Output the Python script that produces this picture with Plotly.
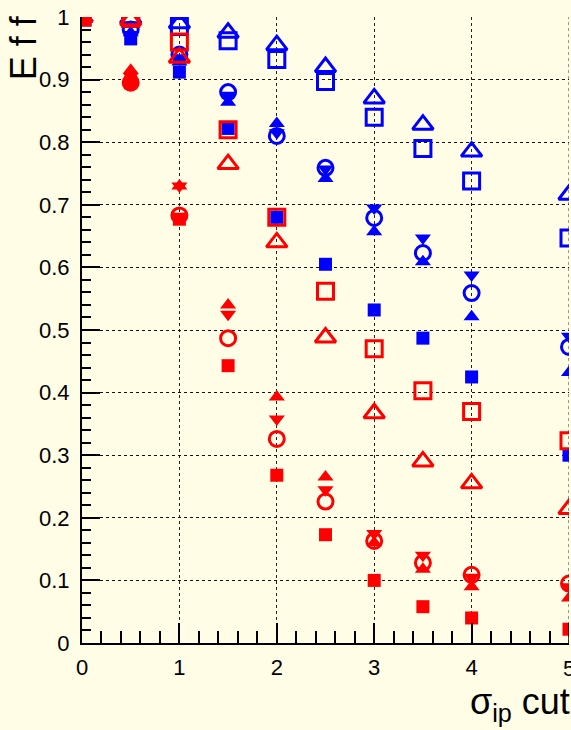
import plotly.graph_objects as go

# cut values (sigma_ip)
x_cut = [0, 0.5, 1, 1.5, 2, 2.5, 3, 3.5, 4, 5]
x_tick_labels = ["0", "1", "2", "3", "4", "5"]

# blue series
blue_filled_sq = [1.0, 0.965, 0.912, 0.822, 0.680, 0.605, 0.532, 0.487, 0.425, 0.300]
blue_open_sq   = [1.0, 0.998, 0.985, 0.962, 0.932, 0.897, 0.840, 0.790, 0.738, 0.647]
blue_open_tri  = [1.0, 0.998, 0.990, 0.975, 0.955, 0.920, 0.870, 0.828, 0.785, 0.716]
blue_tri_up    = [1.0, 0.975, 0.928, 0.864, 0.830, 0.742, 0.657, 0.609, 0.521, 0.432]
blue_tri_down  = [1.0, 0.972, 0.935, 0.875, 0.815, 0.757, 0.695, 0.647, 0.588, 0.490]
blue_open_circ = [1.0, 0.980, 0.940, 0.880, 0.810, 0.759, 0.679, 0.623, 0.559, 0.473]

# red series
red_filled_sq = [1.0, 0.895, 0.677, 0.443, 0.268, 0.173, 0.100, 0.058, 0.040, 0.022]
red_open_sq   = [1.0, 0.998, 0.960, 0.820, 0.680, 0.562, 0.470, 0.403, 0.370, 0.323]
red_open_tri  = [1.0, 0.995, 0.935, 0.765, 0.640, 0.488, 0.367, 0.290, 0.255, 0.214]
red_tri_up    = [1.0, 0.915, 0.730, 0.540, 0.393, 0.265, 0.160, 0.118, 0.090, 0.072]
red_tri_down  = [1.0, 0.905, 0.730, 0.525, 0.358, 0.245, 0.175, 0.140, 0.105, 0.090]
red_open_circ = [1.0, 0.895, 0.683, 0.487, 0.326, 0.226, 0.163, 0.128, 0.109, 0.095]

BLUE = "#0000ff"
RED = "#ff0000"
BG = "#fffde6"

styles = {
    "filled_sq": dict(symbol="square", size=13),
    "open_sq": dict(symbol="square-open", size=16, line=dict(width=3)),
    "open_tri": dict(symbol="triangle-up-open", size=18, line=dict(width=3)),
    "tri_up": dict(symbol="triangle-up", size=14),
    "tri_down": dict(symbol="triangle-down", size=14),
    "open_circ": dict(symbol="circle-open", size=15, line=dict(width=3)),
}

series = [
    ("filled_sq", BLUE, blue_filled_sq),
    ("open_sq", BLUE, blue_open_sq),
    ("open_tri", BLUE, blue_open_tri),
    ("tri_up", BLUE, blue_tri_up),
    ("tri_down", BLUE, blue_tri_down),
    ("open_circ", BLUE, blue_open_circ),
    ("filled_sq", RED, red_filled_sq),
    ("open_sq", RED, red_open_sq),
    ("open_tri", RED, red_open_tri),
    ("tri_up", RED, red_tri_up),
    ("tri_down", RED, red_tri_down),
    ("open_circ", RED, red_open_circ),
]

fig = go.Figure()
for kind, color, vals in series:
    st = dict(styles[kind])
    m = dict(symbol=st["symbol"], size=st["size"], color=color)
    if "line" in st:
        m["line"] = dict(width=st["line"]["width"], color=color)
    fig.add_trace(go.Scatter(x=x_cut, y=vals, mode="markers", marker=m,
                             showlegend=False, cliponaxis=True))

tickfont = dict(family="Liberation Sans Narrow, Liberation Sans, Arial", size=22, color="black")

fig.update_layout(
    width=571, height=730,
    margin=dict(l=82, r=2, t=17, b=87),
    paper_bgcolor=BG, plot_bgcolor=BG,
    xaxis=dict(range=[0, 5], tickvals=[0, 1, 2, 3, 4], ticktext=x_tick_labels[:5],
               showgrid=True, gridcolor="#222",
               griddash="dot", gridwidth=1, zeroline=False, showline=True,
               linecolor="black", linewidth=2, ticks="inside", ticklen=20,
               tickwidth=1.5, tickcolor="black", tickfont=tickfont,
               ticklabelstandoff=4,
               minor=dict(dtick=0.2, tick0=0, ticks="inside", ticklen=12, tickwidth=1.5,
                          tickcolor="black", showgrid=False)),
    yaxis=dict(range=[0, 1], dtick=0.1, tick0=0, showgrid=True, gridcolor="#111",
               griddash="dot", gridwidth=1, zeroline=False, showline=True,
               linecolor="black", linewidth=2, ticks="inside", ticklen=18,
               tickwidth=1.5, tickcolor="black", tickfont=tickfont,
               ticklabelstandoff=6,
               minor=dict(dtick=0.02, ticks="inside", ticklen=9, tickwidth=1.5,
                          tickcolor="black", showgrid=False)),
    shapes=[
        dict(type="line", xref="x", yref="paper", x0=5, x1=5, y0=0, y1=1,
             line=dict(color="#333", width=1, dash="dot")),
        dict(type="line", xref="x", yref="paper", x0=5, x1=5, y0=0, y1=0.032,
             line=dict(color="black", width=1.5)),
    ],
    annotations=[
        dict(text=x_tick_labels[5], xref="x", yref="paper", x=5, y=-0.018,
             showarrow=False, xanchor="center", yanchor="top",
             font=tickfont),
        dict(text="E f f", xref="paper", yref="paper", x=-0.121, y=0.95,
             textangle=-90, showarrow=False, xanchor="center", yanchor="middle",
             font=dict(family="Liberation Sans, Arial", size=36, color="black")),
        dict(text="σ<sub>ip</sub> cut", xref="paper", yref="paper", x=1.006, y=-0.097,
             showarrow=False, xanchor="right", yanchor="middle",
             font=dict(family="Liberation Sans, Arial", size=36, color="black")),
    ],
)

fig.write_html("out.html")
